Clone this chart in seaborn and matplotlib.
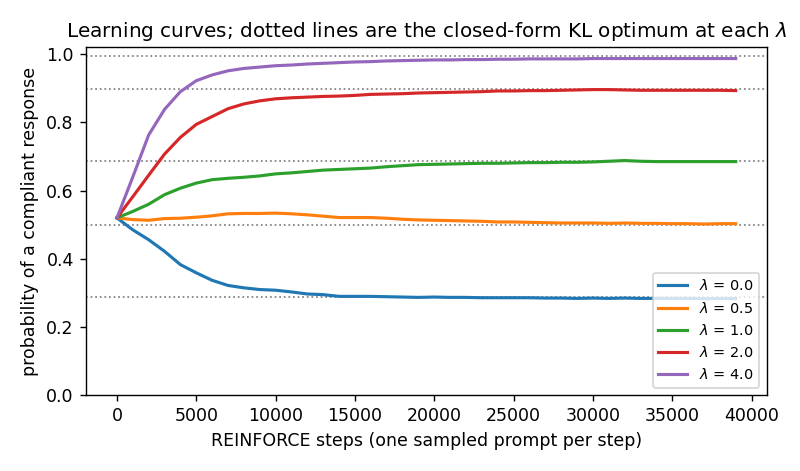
import numpy as np
import pandas as pd
import matplotlib
matplotlib.use('Agg')
import matplotlib.pyplot as plt
import seaborn as sns

steps = np.arange(0, 40000, 1000)
lambdas = [0.0, 0.5, 1.0, 2.0, 4.0]

# one value every 1000 steps
p_lam0 = [0.520, 0.485, 0.456, 0.422, 0.383, 0.359, 0.337, 0.322, 0.315, 0.310,
          0.308, 0.303, 0.297, 0.295, 0.290, 0.290, 0.290, 0.289, 0.288, 0.287,
          0.288, 0.287, 0.287, 0.286, 0.286, 0.286, 0.286, 0.285, 0.285, 0.284,
          0.285, 0.284, 0.285, 0.284, 0.284, 0.284, 0.284, 0.283, 0.284, 0.283]
p_lam05 = [0.520, 0.515, 0.513, 0.518, 0.519, 0.522, 0.526, 0.532, 0.533, 0.533,
           0.534, 0.532, 0.529, 0.525, 0.521, 0.521, 0.521, 0.519, 0.516, 0.514,
           0.513, 0.512, 0.511, 0.510, 0.508, 0.508, 0.507, 0.506, 0.505, 0.505,
           0.505, 0.504, 0.505, 0.504, 0.504, 0.503, 0.503, 0.502, 0.503, 0.503]
p_lam1 = [0.520, 0.539, 0.560, 0.588, 0.607, 0.622, 0.632, 0.636, 0.639, 0.643,
          0.649, 0.652, 0.656, 0.660, 0.662, 0.664, 0.666, 0.670, 0.673, 0.676,
          0.677, 0.678, 0.679, 0.680, 0.680, 0.681, 0.682, 0.682, 0.683, 0.683,
          0.684, 0.686, 0.688, 0.686, 0.685, 0.685, 0.685, 0.685, 0.685, 0.685]
p_lam2 = [0.520, 0.582, 0.645, 0.707, 0.756, 0.794, 0.817, 0.840, 0.854, 0.863,
          0.869, 0.872, 0.874, 0.876, 0.877, 0.879, 0.882, 0.883, 0.884, 0.886,
          0.887, 0.888, 0.889, 0.890, 0.892, 0.892, 0.893, 0.893, 0.894, 0.895,
          0.896, 0.896, 0.895, 0.894, 0.894, 0.894, 0.894, 0.894, 0.894, 0.893]
p_lam4 = [0.520, 0.640, 0.763, 0.838, 0.890, 0.922, 0.939, 0.951, 0.958, 0.962,
          0.966, 0.968, 0.971, 0.973, 0.975, 0.977, 0.978, 0.980, 0.981, 0.982,
          0.983, 0.983, 0.984, 0.984, 0.985, 0.985, 0.986, 0.986, 0.986, 0.986,
          0.987, 0.987, 0.987, 0.987, 0.987, 0.987, 0.987, 0.987, 0.987, 0.987]

# closed-form optimum for each lambda
p_opt = [0.287, 0.500, 0.686, 0.897, 0.994]

curves = [p_lam0, p_lam05, p_lam1, p_lam2, p_lam4]
rows = []
for lam, vals in zip(lambdas, curves):
    for s, v in zip(steps, vals):
        rows.append({'step': s, 'p': v, 'label': rf'$\lambda$ = {lam:.1f}'})
df = pd.DataFrame(rows)

fig = plt.figure(figsize=(6.4, 3.768), dpi=125)
ax = fig.add_axes([0.1075, 0.1607, 0.8508, 0.7389])

colors = sns.color_palette('tab10', 5)
for opt in p_opt:
    ax.axhline(opt, color='grey', linestyle=':', linewidth=1)

sns.lineplot(data=df, x='step', y='p', hue='label', palette=colors,
             linewidth=1.8, ax=ax)

ax.set_ylim(0, 1.02)
ax.set_xlabel('REINFORCE steps (one sampled prompt per step)')
ax.set_ylabel('probability of a compliant response')
ax.set_title(r'Learning curves; dotted lines are the closed-form KL optimum at each $\lambda$',
             fontsize=11.5)
ax.legend(loc='lower right', fontsize='small')

fig.savefig('out.png', dpi=125)
